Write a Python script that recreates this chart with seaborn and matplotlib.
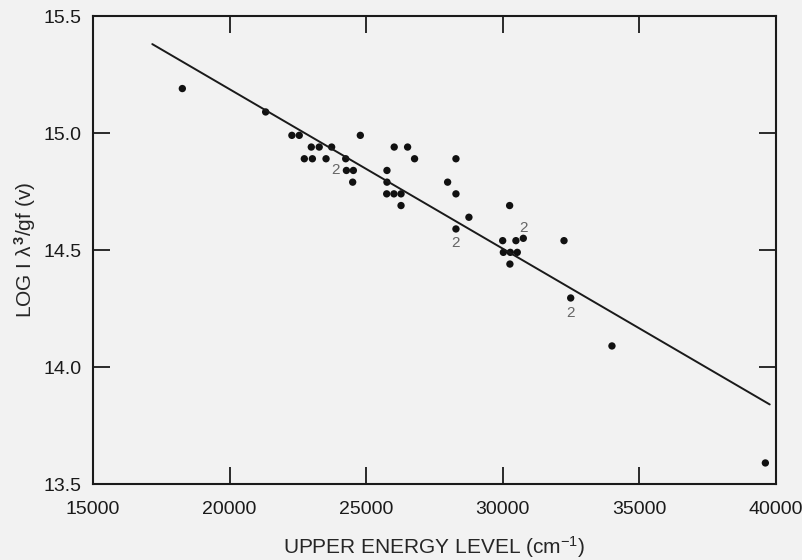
import matplotlib
matplotlib.use("Agg")
import pandas as pd
import matplotlib.pyplot as plt
import seaborn as sns

# measured points (upper energy level in cm^-1, log I lambda^3/gf)
energy = [18270, 21320, 22280, 22550, 22990, 23280, 23735, 22735, 23030, 23530,
          24785, 24250, 24275, 24530, 24505, 26025, 26515, 26770, 25760, 25760,
          25750, 26015, 26275, 26275, 27980, 28285, 28285, 28760, 28285, 30250,
          29995, 30480, 30750, 30020, 30275, 30530, 30260, 32240, 32485, 33995,
          39610]
log_val = [15.19, 15.09, 14.99, 14.99, 14.94, 14.94, 14.94, 14.89, 14.89, 14.89,
           14.99, 14.89, 14.84, 14.84, 14.79, 14.94, 14.94, 14.89, 14.84, 14.79,
           14.74, 14.74, 14.74, 14.69, 14.79, 14.89, 14.74, 14.64, 14.59, 14.69,
           14.54, 14.54, 14.55, 14.49, 14.49, 14.49, 14.44, 14.54, 14.295, 14.09,
           13.59]

# "2" markers for doubled points
dup_x = [23860, 28285, 30740, 32485]
dup_y = [14.84, 14.53, 14.595, 14.23]

# fitted line
fit_x = [17170, 39770]
fit_y = [15.38, 13.84]

df = pd.DataFrame({"energy": energy, "log": log_val})
fit = pd.DataFrame({"energy": fit_x, "log": fit_y})

sns.set_theme(style="ticks")
plt.rcParams["font.family"] = ["Liberation Sans", "DejaVu Sans"]
plt.rcParams["mathtext.fontset"] = "custom"
plt.rcParams["mathtext.rm"] = "Liberation Sans"
plt.rcParams["mathtext.it"] = "Liberation Sans"
plt.rcParams["mathtext.bf"] = "Liberation Sans:bold"

bg = "#f2f2f2"
fig = plt.figure(figsize=(8.03, 5.6), dpi=100, facecolor=bg)
ax = fig.add_axes([0.1158, 0.1357, 0.8506, 0.8357])
ax.set_facecolor(bg)

sns.lineplot(data=fit, x="energy", y="log", color="#1a1a1a", linewidth=1.4, ax=ax)
sns.scatterplot(data=df, x="energy", y="log", color="#111111", s=28,
                edgecolor="none", ax=ax)

for xx, yy in zip(dup_x, dup_y):
    ax.text(xx, yy, "2", fontsize=11, color="#666666", ha="center", va="center")

ax.set_xlim(15000, 40000)
ax.set_ylim(13.5, 15.5)
ax.set_xticks([15000, 20000, 25000, 30000, 35000, 40000])
ax.set_yticks([13.5, 14.0, 14.5, 15.0, 15.5])
ax.set_yticklabels(["13.5", "14.0", "14.5", "15.0", "15.5"])

ax.tick_params(direction="in", length=12, width=1.3, top=True, right=True,
               labelsize=14, colors="#1a1a1a", pad=8)
ax.tick_params(axis="x", pad=12)
for sp in ax.spines.values():
    sp.set_linewidth(1.5)
    sp.set_color("#1a1a1a")

ax.set_xlabel(r"UPPER ENERGY LEVEL (cm$^{-1}$)", fontsize=15)
ax.set_ylabel(r"LOG I $\lambda^{\mathbf{3}}$/gf (v)", fontsize=15)
ax.xaxis.set_label_coords(0.5, -0.108)
ax.yaxis.set_label_coords(-0.08, 0.5)

fig.savefig("out.png", dpi=100, facecolor=bg)
